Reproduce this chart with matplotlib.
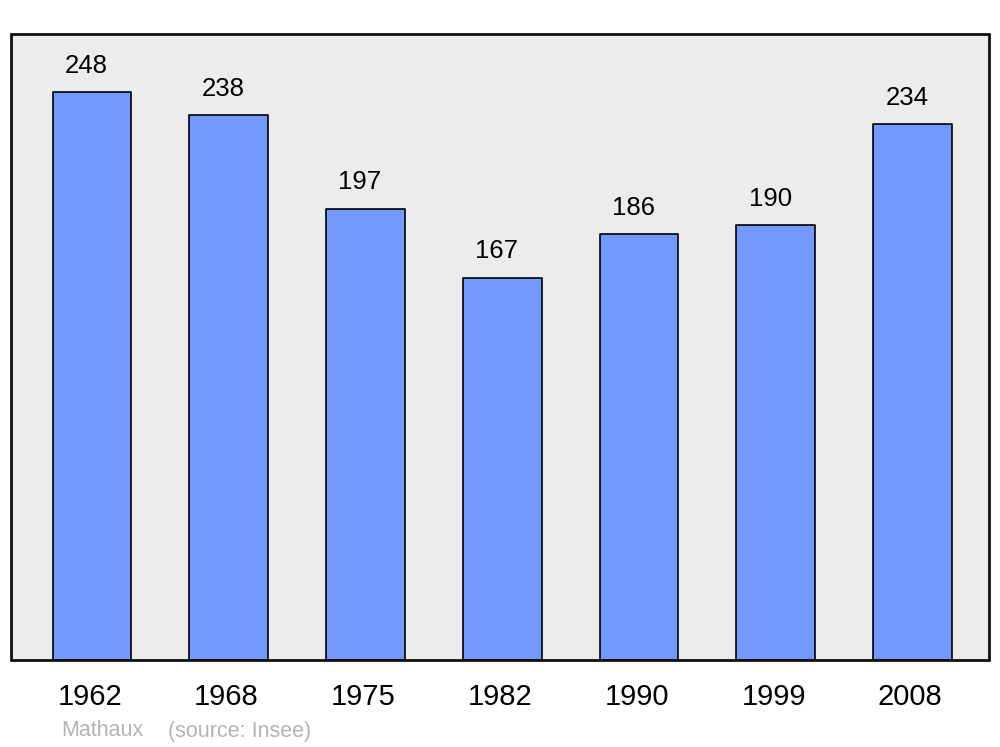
import matplotlib
matplotlib.use("Agg")
import matplotlib.pyplot as plt
from matplotlib.transforms import ScaledTranslation

years = ["1962", "1968", "1975", "1982", "1990", "1999", "2008"]
population = [248, 238, 197, 167, 186, 190, 234]
commune = "Mathaux"
source = "(source: Insee)"

plt.rcParams['font.family'] = ['Liberation Sans', 'DejaVu Sans']

fig = plt.figure(figsize=(10, 7.47), dpi=100)
ax = fig.add_axes([0.011, 87 / 747, 0.978, 626 / 747])
ax.set_facecolor('#ececec')

x = list(range(len(years)))
bars = ax.bar(x, population, width=0.575, color='#7399ff', edgecolor='black',
              linewidth=1.2, zorder=2)
for b in bars:
    b.set_joinstyle('round')

for xi, v in zip(x, population):
    ax.annotate(str(v), (xi, v), xytext=(-4, 14), textcoords='offset points',
                ha='center', va='baseline', fontsize=18.5, color='black')

ax.set_xlim(-0.592, 6.559)
ax.set_ylim(0, 273.4)
ax.set_xticks(x)
ax.set_xticklabels(years, fontsize=21)
ax.tick_params(axis='x', length=0, pad=16.5)
offset = ScaledTranslation(-1.6 / 72, 0, fig.dpi_scale_trans)
for lbl in ax.get_xticklabels():
    lbl.set_transform(lbl.get_transform() + offset)
ax.set_yticks([])
for s in ax.spines.values():
    s.set_linewidth(2.0)
    s.set_color('#111111')
    s.set_joinstyle('round')
    s.set_capstyle('round')

fig.text(0.061, 1 - 731 / 747, commune, fontsize=15.5, color='#b3b3b3', va='center', ha='left')
fig.text(0.168, 1 - 731 / 747, source, fontsize=15.5, color='#b3b3b3', va='center', ha='left')

fig.savefig('out.png', dpi=100)
